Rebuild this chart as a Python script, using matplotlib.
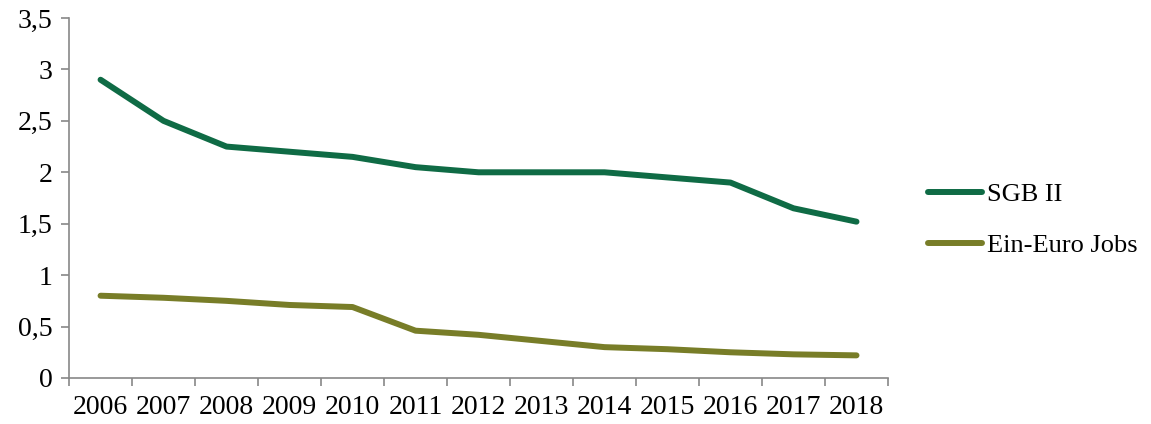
import matplotlib.pyplot as plt
import numpy as np

plt.rcParams['font.family'] = ['Liberation Serif', 'DejaVu Serif']

years = ['2006', '2007', '2008', '2009', '2010', '2011', '2012',
         '2013', '2014', '2015', '2016', '2017', '2018']
sgb2 = [2.90, 2.50, 2.25, 2.20, 2.15, 2.05, 2.00, 2.00, 2.00, 1.95, 1.90, 1.65, 1.52]
ein_euro = [0.80, 0.78, 0.75, 0.71, 0.69, 0.46, 0.42, 0.36, 0.30, 0.28, 0.25, 0.23, 0.22]

fig = plt.figure(figsize=(11.51, 4.24), dpi=100)
ax = fig.add_axes([0.060, 0.1085, 0.7115, 0.849])

x = np.arange(len(years))
l1, = ax.plot(x, sgb2, color='#0f6b45', lw=4.3, solid_capstyle='round', solid_joinstyle='round', label='SGB II')
l2, = ax.plot(x, ein_euro, color='#787d28', lw=4.3, solid_capstyle='round', solid_joinstyle='round', label='Ein-Euro Jobs')

ax.set_xlim(-0.5, len(years) - 0.5)
ax.set_ylim(0, 3.5)
ax.set_xticks(np.arange(-0.5, len(years), 1.0))
ax.set_xticklabels([])
ax.set_xticks(x, minor=True)
ax.set_xticklabels(years, minor=True, fontsize=20)
ax.tick_params(axis='x', which='minor', length=0, pad=12)
ax.tick_params(axis='x', which='major', length=6, color='#888888', width=1.2)

yt = np.arange(0, 3.51, 0.5)
ax.set_yticks(yt)
ax.set_yticklabels([('%g' % v).replace('.', ',') for v in yt], fontsize=20)
ax.tick_params(axis='y', length=6, color='#888888', width=1.2, pad=6)

for s in ['top', 'right']:
    ax.spines[s].set_visible(False)
for s in ['left', 'bottom']:
    ax.spines[s].set_color('#888888')
    ax.spines[s].set_linewidth(1.2)

fig.legend(handles=[l1, l2], loc='center left', bbox_to_anchor=(0.8063, 0.481),
           frameon=False, fontsize=19, handlelength=2.05, handletextpad=0.2,
           labelspacing=1.05, borderpad=0, borderaxespad=0)

fig.savefig('out.png', dpi=100)
